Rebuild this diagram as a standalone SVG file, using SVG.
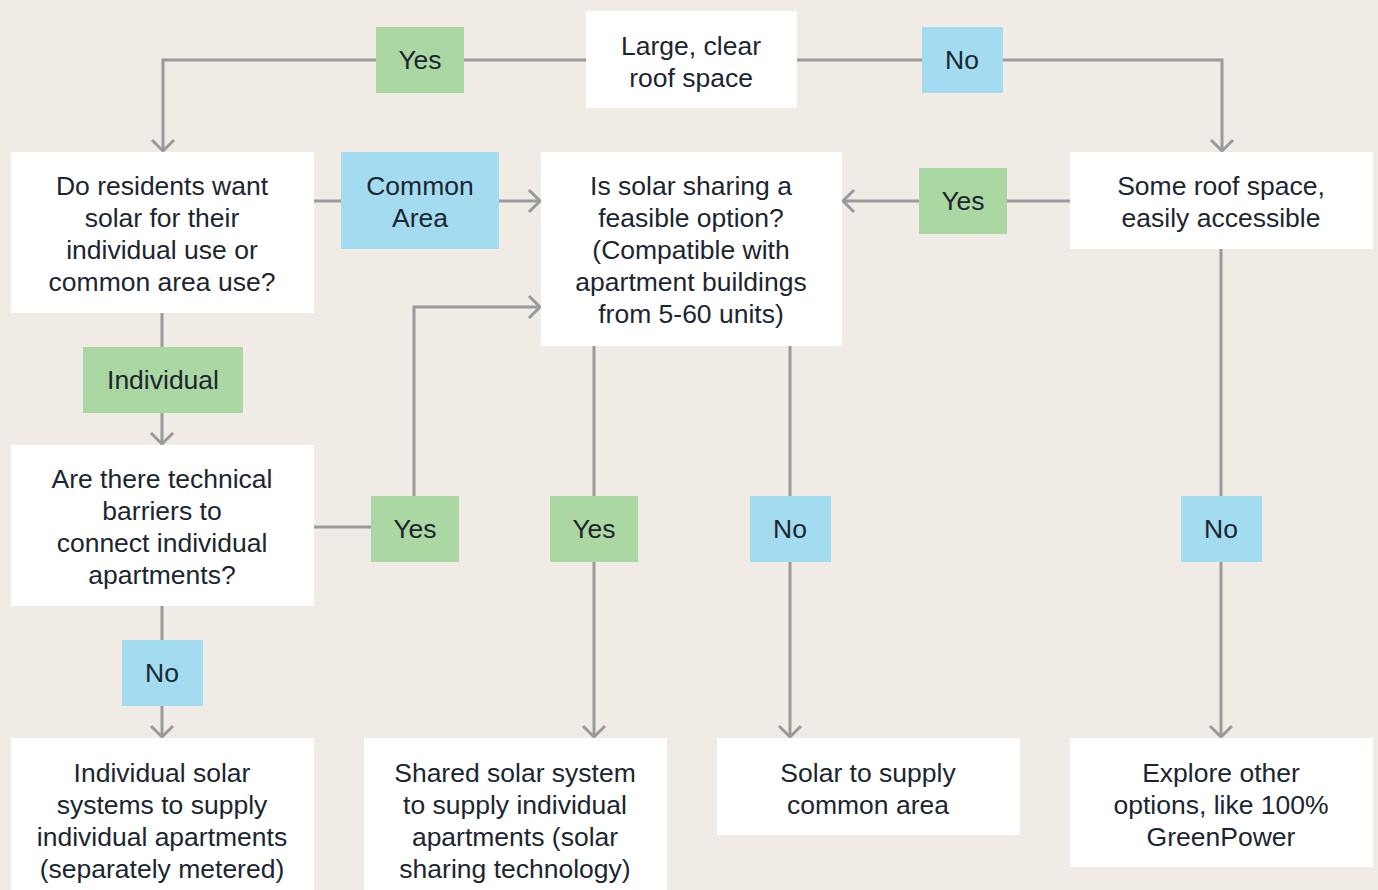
<svg xmlns="http://www.w3.org/2000/svg" width="1378" height="890" viewBox="0 0 1378 890">
<style>
.box{fill:#ffffff}
.yes{fill:#abd7a2}
.no{fill:#a3dcf1}
text{font-family:"Liberation Sans",Arial,sans-serif;font-size:26.5px;fill:#1c2630;text-anchor:middle}
.c{fill:none;stroke:#9a9a9c;stroke-width:3}
</style>
<defs>
<marker id="arr" markerUnits="userSpaceOnUse" markerWidth="30" markerHeight="30" refX="15" refY="15" orient="auto">
<path d="M4,4 L15,15 L4,26" fill="none" stroke="#9a9a9c" stroke-width="3"/>
</marker>
</defs>
<rect width="1378" height="890" fill="#f0ebe5"/>
<g id="connectors">
<path class="c" d="M586,60 H163 V151" marker-end="url(#arr)"/>
<path class="c" d="M797,60 H1222 V151" marker-end="url(#arr)"/>
<path class="c" d="M314,201 H540" marker-end="url(#arr)"/>
<path class="c" d="M1070,201 H843" marker-end="url(#arr)"/>
<path class="c" d="M162,313 V444" marker-end="url(#arr)"/>
<path class="c" d="M314,527 H414 V307 H540" marker-end="url(#arr)"/>
<path class="c" d="M594,346 V737" marker-end="url(#arr)"/>
<path class="c" d="M790,346 V737" marker-end="url(#arr)"/>
<path class="c" d="M1221,249 V737" marker-end="url(#arr)"/>
<path class="c" d="M162,606 V737" marker-end="url(#arr)"/>
</g>
<g id="n_large"><rect class="box" x="586" y="11" width="211" height="97"/><text x="691" y="55">Large, clear</text><text x="691" y="87">roof space</text></g>
<g id="n_residents"><rect class="box" x="11" y="152" width="303" height="161"/><text x="162" y="195">Do residents want</text><text x="162" y="227">solar for their</text><text x="162" y="259">individual use or</text><text x="162" y="291">common area use?</text></g>
<g id="n_sharing"><rect class="box" x="541" y="152" width="301" height="194"/><text x="691" y="195">Is solar sharing a</text><text x="691" y="227">feasible option?</text><text x="691" y="259">(Compatible with</text><text x="691" y="291">apartment buildings</text><text x="691" y="323">from 5-60 units)</text></g>
<g id="n_some"><rect class="box" x="1070" y="152" width="303" height="97"/><text x="1221" y="195">Some roof space,</text><text x="1221" y="227">easily accessible</text></g>
<g id="n_technical"><rect class="box" x="11" y="445" width="303" height="161"/><text x="162" y="488">Are there technical</text><text x="162" y="520">barriers to</text><text x="162" y="552">connect individual</text><text x="162" y="584">apartments?</text></g>
<g id="n_individual_solar"><rect class="box" x="11" y="738" width="303" height="160"/><text x="162" y="782">Individual solar</text><text x="162" y="814">systems to supply</text><text x="162" y="846">individual apartments</text><text x="162" y="878">(separately metered)</text></g>
<g id="n_shared"><rect class="box" x="364" y="738" width="303" height="160"/><text x="515" y="782">Shared solar system</text><text x="515" y="814">to supply individual</text><text x="515" y="846">apartments (solar</text><text x="515" y="878">sharing technology)</text></g>
<g id="n_common"><rect class="box" x="717" y="738" width="303" height="97"/><text x="868" y="782">Solar to supply</text><text x="868" y="814">common area</text></g>
<g id="n_explore"><rect class="box" x="1070" y="738" width="303" height="129"/><text x="1221" y="782">Explore other</text><text x="1221" y="814">options, like 100%</text><text x="1221" y="846">GreenPower</text></g>
<g id="l_yes1"><rect class="yes" x="376" y="27" width="88" height="66"/><text x="420" y="69">Yes</text></g>
<g id="l_no1"><rect class="no" x="922" y="27" width="81" height="66"/><text x="962" y="69">No</text></g>
<g id="l_common"><rect class="no" x="341" y="152" width="158" height="97"/><text x="420" y="195">Common</text><text x="420" y="227">Area</text></g>
<g id="l_yes2"><rect class="yes" x="919" y="168" width="88" height="66"/><text x="963" y="210">Yes</text></g>
<g id="l_individual"><rect class="yes" x="83" y="347" width="160" height="66"/><text x="163" y="389">Individual</text></g>
<g id="l_yes3"><rect class="yes" x="371" y="496" width="88" height="66"/><text x="415" y="538">Yes</text></g>
<g id="l_yes4"><rect class="yes" x="550" y="496" width="88" height="66"/><text x="594" y="538">Yes</text></g>
<g id="l_no2"><rect class="no" x="750" y="496" width="81" height="66"/><text x="790" y="538">No</text></g>
<g id="l_no3"><rect class="no" x="1181" y="496" width="81" height="66"/><text x="1221" y="538">No</text></g>
<g id="l_no4"><rect class="no" x="122" y="640" width="81" height="66"/><text x="162" y="682">No</text></g>
</svg>
